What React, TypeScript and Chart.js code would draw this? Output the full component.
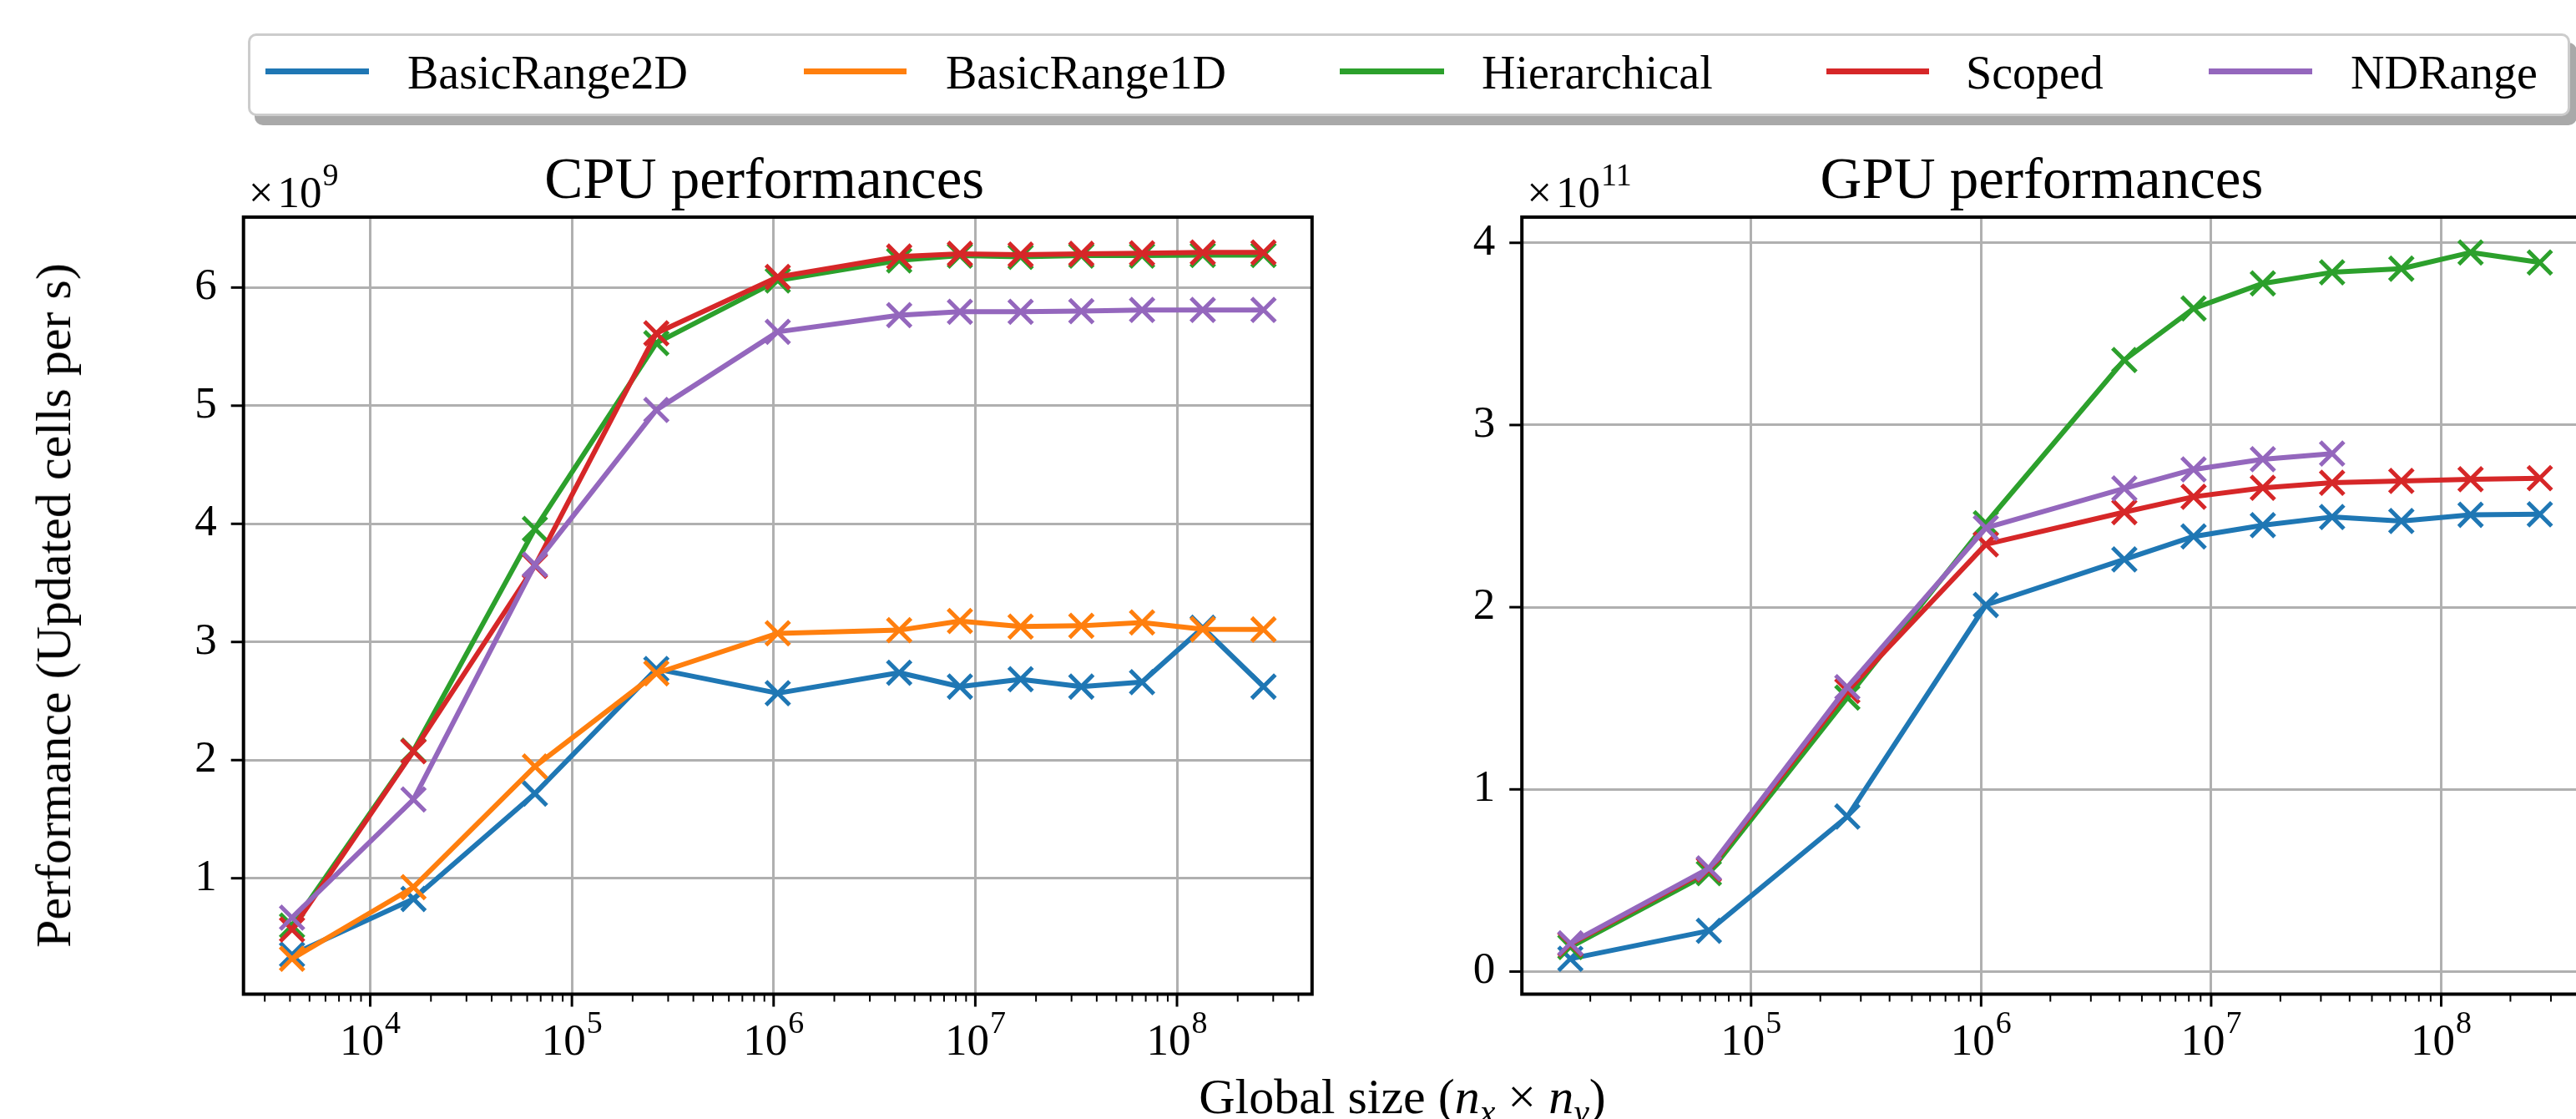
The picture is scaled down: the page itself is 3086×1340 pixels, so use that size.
import React, { useEffect, useRef } from 'react';
import { Chart, registerables } from 'chart.js';

Chart.register(...registerables);

// ---------------- data ----------------
const SERIES_NAMES = ['BasicRange2D', 'BasicRange1D', 'Hierarchical', 'Scoped', 'NDRange'];
const SERIES_COLORS = ['#1f77b4', '#ff7f0e', '#2ca02c', '#d62728', '#9467bd'];

// CPU: global sizes and performance in units of 1e9 updated cells per s
const cpuSizes = [4096, 16384, 65536, 262144, 1048576, 4194304, 8388608, 16777216, 33554432, 67108864, 134217728, 268435456];
const cpuBasicRange2D = [0.354, 0.825, 1.717, 2.771, 2.566, 2.74, 2.622, 2.684, 2.622, 2.66, 3.12, 2.622];
const cpuBasicRange1D = [0.318, 0.924, 1.946, 2.735, 3.073, 3.1, 3.177, 3.13, 3.137, 3.165, 3.108, 3.106];
const cpuHierarchical = [0.6, 2.08, 3.957, 5.53, 6.06, 6.23, 6.27, 6.26, 6.27, 6.27, 6.275, 6.275];
const cpuScoped = [0.566, 2.075, 3.644, 5.613, 6.089, 6.262, 6.285, 6.278, 6.285, 6.29, 6.297, 6.297];
const cpuNDRange = [0.667, 1.667, 3.655, 4.964, 5.625, 5.766, 5.795, 5.795, 5.8, 5.81, 5.81, 5.81];

// GPU: global sizes and performance in units of 1e11 updated cells per s
const gpuSizes = [16384, 65536, 262144, 1048576, 4194304, 8388608, 16777216, 33554432, 67108864, 134217728, 268435456];
const gpuBasicRange2D = [0.07, 0.224, 0.851, 2.012, 2.262, 2.388, 2.45, 2.495, 2.473, 2.507, 2.51];
const gpuHierarchical = [0.135, 0.54, 1.504, 2.46, 3.357, 3.64, 3.777, 3.838, 3.858, 3.947, 3.892];
const gpuScoped = [0.15, 0.56, 1.54, 2.345, 2.522, 2.606, 2.655, 2.683, 2.693, 2.702, 2.708];
const gpuNDRange = [0.155, 0.566, 1.561, 2.435, 2.652, 2.756, 2.812, 2.843];

const cpuXRange = [2353, 4.673e8];
const cpuYRange = [0.019, 6.596];
const gpuXRange = [10085, 4.36e8];
const gpuYRange = [-0.124, 4.141];
const cpuYTicks = [1, 2, 3, 4, 5, 6];
const gpuYTicks = [0, 1, 2, 3, 4];
const cpuExponent = '9';
const gpuExponent = '11';
const cpuTitle = 'CPU performances';
const gpuTitle = 'GPU performances';
const yAxisLabel = 'Performance (Updated cells per s)';

// ---------------- style ----------------
const FONT = '"Liberation Serif", "DejaVu Serif", serif';
const GRID = '#b0b0b0';

function buildLogTicks(min: number, max: number) {
  const ticks: { value: number; major: boolean }[] = [];
  for (let e = Math.floor(Math.log10(min)); e <= Math.ceil(Math.log10(max)); e++) {
    for (let k = 1; k <= 9; k++) {
      const v = k * Math.pow(10, e);
      if (v >= min && v <= max) ticks.push({ value: v, major: k === 1 });
    }
  }
  return ticks;
}

function drawPower(ctx: CanvasRenderingContext2D, x: number, baseline: number, prefix: string, exp: string, align: 'center' | 'left') {
  const baseFont = `53px ${FONT}`;
  const expFont = `38px ${FONT}`;
  ctx.font = baseFont;
  const wPre = prefix ? ctx.measureText(prefix).width : 0;
  const gap = prefix ? 5 : 0;
  const w10 = ctx.measureText('10').width;
  ctx.font = expFont;
  const wExp = ctx.measureText(exp).width;
  const total = wPre + gap + w10 + 1 + wExp;
  const x0 = align === 'center' ? x - total / 2 : x;
  ctx.textAlign = 'left';
  ctx.textBaseline = 'alphabetic';
  ctx.font = baseFont;
  if (prefix) ctx.fillText(prefix, x0, baseline);
  ctx.fillText('10', x0 + wPre + gap, baseline);
  ctx.font = expFont;
  ctx.fillText(exp, x0 + wPre + gap + w10 + 1, baseline - 26);
}

function makeDecorPlugin(title: string, exponent: string) {
  return {
    id: 'decor',
    afterDraw(chart: any) {
      const { ctx, chartArea: a, scales } = chart;
      const xs = scales.x;
      const ys = scales.y;
      ctx.save();
      ctx.strokeStyle = '#000';
      ctx.fillStyle = '#000';
      ctx.lineCap = 'butt';
      for (const t of xs.ticks) {
        const px = xs.getPixelForValue(t.value);
        ctx.lineWidth = t.major ? 3 : 2;
        const len = t.major ? 15 : 9;
        ctx.beginPath();
        ctx.moveTo(px, a.bottom);
        ctx.lineTo(px, a.bottom + len);
        ctx.stroke();
      }
      for (const t of ys.ticks) {
        const py = ys.getPixelForValue(t.value);
        ctx.lineWidth = 3;
        ctx.beginPath();
        ctx.moveTo(a.left - 15, py);
        ctx.lineTo(a.left, py);
        ctx.stroke();
      }
      ctx.lineWidth = 4;
      ctx.strokeRect(a.left, a.top, a.right - a.left, a.bottom - a.top);
      for (const t of xs.ticks) {
        if (!t.major) continue;
        const e = Math.round(Math.log10(t.value));
        drawPower(ctx, xs.getPixelForValue(t.value), a.bottom + 72, '', String(e), 'center');
      }
      drawPower(ctx, a.left + 6, a.top - 12, '\u00d7', exponent, 'left');
      ctx.font = `69px ${FONT}`;
      ctx.textAlign = 'center';
      ctx.textBaseline = 'alphabetic';
      ctx.fillText(title, (a.left + a.right) / 2 - 16, a.top - 23);
      ctx.restore();
    },
  };
}

type SeriesDef = { idx: number; values: number[] };

function makeConfig(opts: {
  sizes: number[];
  series: SeriesDef[];
  xRange: number[];
  yRange: number[];
  yTicks: number[];
  title: string;
  exponent: string;
  padding: { left: number; right: number; top: number; bottom: number };
}): any {
  const [xMin, xMax] = opts.xRange;
  const [yMin, yMax] = opts.yRange;
  return {
    type: 'line',
    data: {
      datasets: opts.series.map((s) => ({
        label: SERIES_NAMES[s.idx],
        data: s.values.map((v, i) => ({ x: opts.sizes[i], y: v })),
        borderColor: SERIES_COLORS[s.idx],
        backgroundColor: SERIES_COLORS[s.idx],
        borderWidth: 6,
        borderJoinStyle: 'round',
        pointStyle: 'crossRot',
        pointRadius: 20,
        pointBorderWidth: 5,
        pointBorderColor: SERIES_COLORS[s.idx],
        pointBackgroundColor: SERIES_COLORS[s.idx],
        fill: false,
        tension: 0,
        order: 4 - s.idx,
      })),
    },
    options: {
      animation: false,
      responsive: false,
      maintainAspectRatio: false,
      events: [],
      layout: { padding: opts.padding },
      plugins: { legend: { display: false }, tooltip: { enabled: false }, title: { display: false } },
      scales: {
        x: {
          type: 'logarithmic',
          min: xMin,
          max: xMax,
          afterBuildTicks: (s: any) => {
            s.ticks = buildLogTicks(xMin, xMax);
          },
          afterFit: (s: any) => {
            s.height = 100;
          },
          ticks: { display: false },
          grid: {
            color: (c: any) => (c.tick && c.tick.major ? GRID : 'rgba(0,0,0,0)'),
            lineWidth: 3,
            drawTicks: false,
          },
          border: { display: false },
        },
        y: {
          type: 'linear',
          min: yMin,
          max: yMax,
          afterBuildTicks: (s: any) => {
            s.ticks = opts.yTicks.map((v) => ({ value: v }));
          },
          afterFit: (s: any) => {
            s.width = 100;
          },
          ticks: {
            font: { family: FONT, size: 53 },
            color: '#000',
            padding: 32,
            callback: (v: any) => String(v),
          },
          grid: { color: GRID, lineWidth: 3, drawTicks: false },
          border: { display: false },
        },
      },
    },
    plugins: [makeDecorPlugin(opts.title, opts.exponent)],
  };
}

function ChartCanvas({ makeCfg, left, width }: { makeCfg: () => any; left: number; width: number }) {
  const ref = useRef<HTMLCanvasElement>(null);
  useEffect(() => {
    const chart = new Chart(ref.current as HTMLCanvasElement, makeCfg());
    return () => chart.destroy();
  }, []);
  return (
    <canvas
      ref={ref}
      width={width}
      height={1340}
      style={{ position: 'absolute', left, top: 0, width, height: 1340 }}
    />
  );
}

const cpuConfig = () =>
  makeConfig({
    sizes: cpuSizes,
    series: [
      { idx: 0, values: cpuBasicRange2D },
      { idx: 1, values: cpuBasicRange1D },
      { idx: 2, values: cpuHierarchical },
      { idx: 3, values: cpuScoped },
      { idx: 4, values: cpuNDRange },
    ],
    xRange: cpuXRange,
    yRange: cpuYRange,
    yTicks: cpuYTicks,
    title: cpuTitle,
    exponent: cpuExponent,
    padding: { left: 191.7, right: 78.2, top: 260, bottom: 49.5 },
  });

const gpuConfig = () =>
  makeConfig({
    sizes: gpuSizes,
    series: [
      { idx: 0, values: gpuBasicRange2D },
      { idx: 2, values: gpuHierarchical },
      { idx: 3, values: gpuScoped },
      { idx: 4, values: gpuNDRange },
    ],
    xRange: gpuXRange,
    yRange: gpuYRange,
    yTicks: gpuYTicks,
    title: gpuTitle,
    exponent: gpuExponent,
    padding: { left: 23.2, right: 49.3, top: 260, bottom: 49.5 },
  });

const legendSlots = [
  { x0: 318, x1: 442, tx: 488 },
  { x0: 963, x1: 1086, tx: 1133 },
  { x0: 1605, x1: 1730, tx: 1775 },
  { x0: 2188, x1: 2311, tx: 2355 },
  { x0: 2646, x1: 2770, tx: 2816 },
];

export default function App() {
  useEffect(() => {
    document.body.style.margin = '0';
    document.body.style.overflow = 'hidden';
  }, []);
  return (
    <div
      style={{
        position: 'fixed',
        left: 0,
        top: 0,
        width: 3086,
        height: 1340,
        overflow: 'hidden',
        background: '#ffffff',
        fontFamily: FONT,
        color: '#000',
      }}
    >
      <ChartCanvas makeCfg={cpuConfig} left={0} width={1650} />
      <ChartCanvas makeCfg={gpuConfig} left={1700} width={1450} />

      {/* legend */}
      <div
        style={{
          position: 'absolute',
          left: 297,
          top: 40,
          width: 2782,
          height: 99,
          boxSizing: 'border-box',
          border: '3px solid #cccccc',
          borderRadius: 10,
          background: '#ffffff',
          boxShadow: '8px 11px 0 0 #a9a9a9',
        }}
      />
      {SERIES_NAMES.map((name, i) => (
        <React.Fragment key={name}>
          <div
            style={{
              position: 'absolute',
              left: legendSlots[i].x0,
              top: 81.5,
              width: legendSlots[i].x1 - legendSlots[i].x0,
              height: 7,
              background: SERIES_COLORS[i],
            }}
          />
          <div
            style={{
              position: 'absolute',
              left: legendSlots[i].tx,
              top: 59,
              fontFamily: FONT,
              fontSize: 56,
              lineHeight: '56px',
              whiteSpace: 'nowrap',
            }}
          >
            {name}
          </div>
        </React.Fragment>
      ))}

      {/* y label */}
      <div
        style={{
          position: 'absolute',
          left: 63.7,
          top: 725,
          transform: 'translate(-50%, -50%) rotate(-90deg)',
          fontFamily: FONT,
          fontSize: 60,
          lineHeight: '60px',
          whiteSpace: 'nowrap',
        }}
      >
        {yAxisLabel}
      </div>

      {/* x label */}
      <div
        style={{
          position: 'absolute',
          left: 1680,
          top: 1282.7,
          transform: 'translateX(-50%)',
          fontFamily: FONT,
          fontSize: 60,
          lineHeight: '60px',
          whiteSpace: 'nowrap',
        }}
      >
        Global size (<i>n</i>
        <span style={{ fontSize: '0.7em', position: 'relative', top: '0.3em', lineHeight: 0 }}>
          <i>x</i>
        </span>
        {' \u00d7 '}
        <i>n</i>
        <span style={{ fontSize: '0.7em', position: 'relative', top: '0.3em', lineHeight: 0 }}>
          <i>y</i>
        </span>
        )
      </div>
    </div>
  );
}
